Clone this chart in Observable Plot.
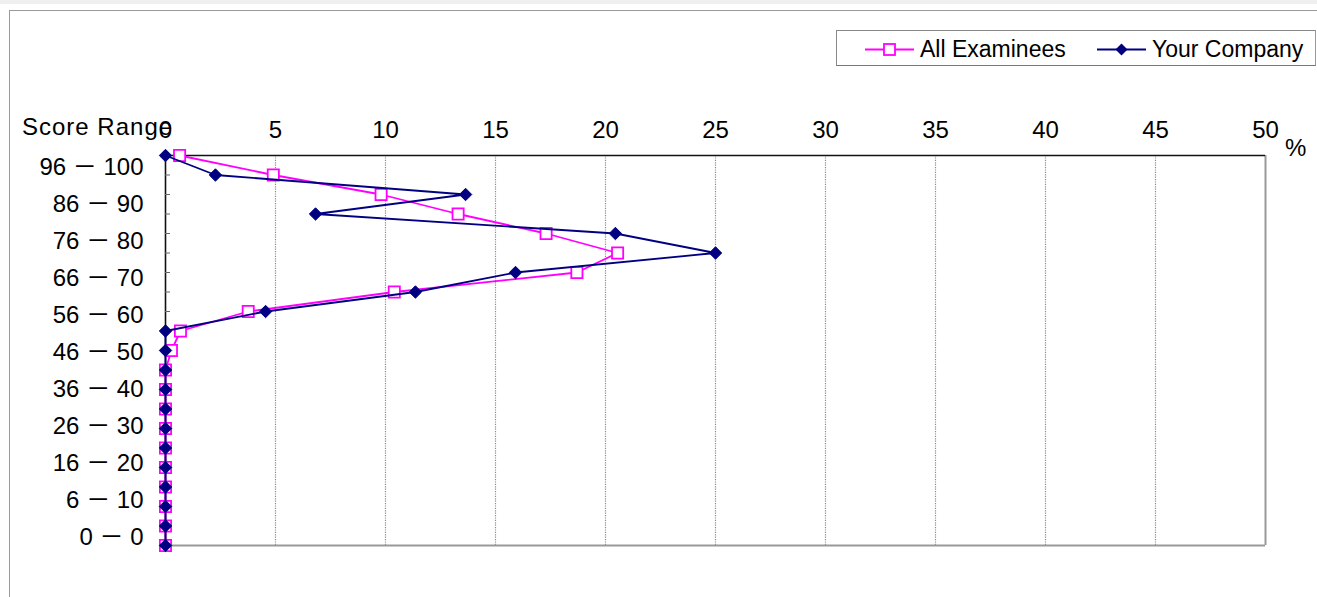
<!DOCTYPE html>
<html>
<head>
<meta charset="utf-8">
<script src="https://cdn.jsdelivr.net/npm/d3@7"></script>
<script src="https://cdn.jsdelivr.net/npm/@observablehq/plot@0.6"></script>
<style>
  html, body { margin: 0; padding: 0; background: #fff; }
  #wrap { position: relative; width: 1317px; height: 597px; overflow: hidden; background: #fff;
          font-family: "Liberation Sans", Arial, sans-serif; color: #000; }
  #wrap svg { position: absolute; left: 0; top: 0; }
  #strip { position: absolute; left: 0; top: 0; width: 1317px; height: 4px; background: #efefef; }
  #frame { position: absolute; left: 9px; top: 10px; width: 1400px; height: 700px;
           border-left: 1.5px solid #999; border-top: 1.5px solid #999; pointer-events: none; }
  #legend { position: absolute; left: 836px; top: 30px; width: 480px; height: 36px; box-sizing: border-box;
            border: 1px solid #888; border-right-color: #999; border-bottom-color: #777; background: #fff;
            font-size: 23px; }
  .item { display: flex; align-items: center; position: absolute; top: 5px; }
  .item svg { position: static !important; margin-right: 6px; }
  #ylabel { position: absolute; left: 22px; top: 113px; font-size: 24px; letter-spacing: 1px; }
  #pct { position: absolute; left: 1285px; top: 134px; font-size: 24px; }
</style>
</head>
<body>
<div id="wrap">
  <div id="strip"></div>
</div>
<script>
// ---- data ----
const categories = ["96 － 100","91 － 95","86 － 90","81 － 85","76 － 80","71 － 75","66 － 70","61 － 65",
  "56 － 60","51 － 55","46 － 50","41 － 45","36 － 40","31 － 35","26 － 30","21 － 25","16 － 20",
  "11 － 15","6 － 10","1 － 5","0 － 0"];
const labeledCategories = ["96 － 100","86 － 90","76 － 80","66 － 70","56 － 60","46 － 50","36 － 40",
  "26 － 30","16 － 20","6 － 10","0 － 0"];
const allExaminees = [0.64, 4.9, 9.8, 13.3, 17.3, 20.55, 18.7, 10.4, 3.76, 0.68, 0.27,
  0, 0, 0, 0, 0, 0, 0, 0, 0, 0];
const yourCompany = [0, 2.27, 13.64, 6.82, 20.45, 25.0, 15.91, 11.36, 4.55, 0, 0,
  0, 0, 0, 0, 0, 0, 0, 0, 0, 0];
const xTicks = [0, 5, 10, 15, 20, 25, 30, 35, 40, 45, 50];
const gridTicks = [5, 10, 15, 20, 25, 30, 35, 40, 45];
const seriesNames = ["All Examinees", "Your Company"];

const rowsA = categories.map((c, i) => ({range: c, value: allExaminees[i]}));
const rowsB = categories.map((c, i) => ({range: c, value: yourCompany[i]}));

const MAG = "#ff00ff", NAVY = "#000080";
const FONT = "'Liberation Sans', Arial, 'Noto Sans CJK JP', sans-serif";

const chart = Plot.plot({
  width: 1317,
  height: 597,
  marginTop: 155,
  marginBottom: 52,
  marginLeft: 165,
  marginRight: 52,
  style: {fontFamily: FONT, fontSize: "24px", color: "#000", background: "transparent", overflow: "visible"},
  x: {domain: [0, 50]},
  y: {type: "point", domain: categories, padding: 0, round: false},
  marks: [
    Plot.ruleX(gridTicks, {stroke: "#8a8a8a", strokeDasharray: "1.2,1.2", strokeWidth: 1.2}),
    Plot.ruleX([50], {stroke: "#999", strokeWidth: 2}),
    Plot.ruleY([categories[categories.length - 1]], {stroke: "#999", strokeWidth: 2}),
    Plot.ruleY([categories[0]], {stroke: "#111", strokeWidth: 1.6}),
    Plot.ruleX([0], {stroke: "#111", strokeWidth: 1.6}),
    Plot.axisX({anchor: "top", ticks: xTicks, tickSize: 0, tickPadding: 18, label: null, fontSize: 24}),
    Plot.axisY({anchor: "left", ticks: categories, tickSize: -5, tickFormat: () => "", label: null, stroke: "#666"}),
    Plot.line(rowsA, {x: "value", y: "range", stroke: MAG, strokeWidth: 1.8}),
    Plot.dot(rowsA, {x: "value", y: "range", symbol: "square", r: 6.3, fill: "white", stroke: MAG, strokeWidth: 1.8}),
    Plot.line(rowsB, {x: "value", y: "range", stroke: NAVY, strokeWidth: 1.8}),
    Plot.dot(rowsB, {x: "value", y: "range", symbol: "diamond2", r: 5.6, fill: NAVY, stroke: NAVY, strokeWidth: 1})
  ]
});

// category labels: the original spreads them slightly tighter than the data rows
const labels = Plot.plot({
  width: 1317,
  height: 597,
  marginTop: 167,
  marginBottom: 60,
  marginLeft: 165,
  marginRight: 52,
  style: {fontFamily: FONT, fontSize: "24px", color: "#000", background: "transparent", overflow: "visible", pointerEvents: "none"},
  y: {type: "point", domain: labeledCategories, padding: 0, round: false},
  marks: [
    Plot.axisY({anchor: "left", ticks: labeledCategories, tickSize: 0, tickPadding: 22, label: null, fontSize: 24})
  ]
});

const wrap = document.getElementById("wrap");
wrap.appendChild(chart);
wrap.appendChild(labels);

const frame = document.createElement("div"); frame.id = "frame"; wrap.appendChild(frame);

const ylab = document.createElement("div"); ylab.id = "ylabel"; ylab.textContent = "Score Range"; wrap.appendChild(ylab);
const pct = document.createElement("div"); pct.id = "pct"; pct.textContent = "%"; wrap.appendChild(pct);

// legend
const legend = document.createElement("div"); legend.id = "legend";
const swatch = (color, kind) => {
  const marker = kind === "square"
    ? `<rect x="19" y="7" width="11" height="11" fill="white" stroke="${color}" stroke-width="1.8"/>`
    : `<path d="M24.5 6.5 L30.5 12.5 L24.5 18.5 L18.5 12.5 Z" fill="${color}"/>`;
  return `<svg width="49" height="25" viewBox="0 0 49 25"><line x1="0" y1="12.5" x2="49" y2="12.5" stroke="${color}" stroke-width="1.8"/>${marker}</svg>`;
};
legend.innerHTML =
  `<div class="item" style="left:28px">${swatch(MAG, "square")}<span>${seriesNames[0]}</span></div>` +
  `<div class="item" style="left:260px">${swatch(NAVY, "diamond")}<span>${seriesNames[1]}</span></div>`;
wrap.appendChild(legend);
</script>
</body>
</html>
